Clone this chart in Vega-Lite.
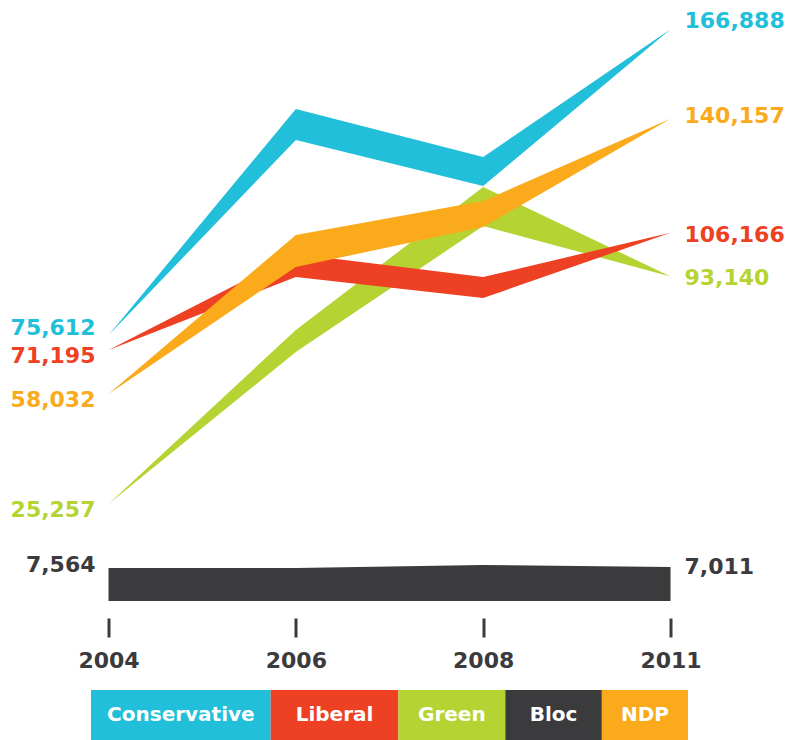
{
  "$schema": "https://vega.github.io/schema/vega-lite/v6.json",
  "autosize": {"type": "pad"},
  "padding": {"left": 10, "top": 2, "right": 0, "bottom": 0},
  "background": "white",
  "config": {"view": {"stroke": null}},
  "bounds": "flush",
  "center": true,
  "spacing": 88,
  "resolve": {"scale": {"x": "independent", "y": "independent"}},
  "datasets": {
    "bands": [
      {"party": "Bloc", "year": "2004", "lo": -3700, "hi": 6150},
      {"party": "Bloc", "year": "2006", "lo": -3700, "hi": 6150},
      {"party": "Bloc", "year": "2008", "lo": -3700, "hi": 7040},
      {"party": "Bloc", "year": "2011", "lo": -3700, "hi": 6440},
      {"party": "Green", "year": "2004", "lo": 25257, "hi": 25257},
      {"party": "Green", "year": "2006", "lo": 70585, "hi": 77148},
      {"party": "Green", "year": "2008", "lo": 108174, "hi": 119809},
      {"party": "Green", "year": "2011", "lo": 93140, "hi": 93140},
      {"party": "Liberal", "year": "2004", "lo": 71195, "hi": 71195},
      {"party": "Liberal", "year": "2006", "lo": 92959, "hi": 99821},
      {"party": "Liberal", "year": "2008", "lo": 86695, "hi": 92959},
      {"party": "Liberal", "year": "2011", "lo": 106166, "hi": 106166},
      {"party": "NDP", "year": "2004", "lo": 58032, "hi": 58032},
      {"party": "NDP", "year": "2006", "lo": 95943, "hi": 105489},
      {"party": "NDP", "year": "2008", "lo": 107876, "hi": 115632},
      {"party": "NDP", "year": "2011", "lo": 140157, "hi": 140157},
      {"party": "Conservative", "year": "2004", "lo": 75612, "hi": 75612},
      {"party": "Conservative", "year": "2006", "lo": 133831, "hi": 143079},
      {"party": "Conservative", "year": "2008", "lo": 120107, "hi": 128759},
      {"party": "Conservative", "year": "2011", "lo": 166888, "hi": 166888}
    ],
    "labels": [
      {"party": "Conservative", "year": "2004", "value": 75612},
      {"party": "Liberal", "year": "2004", "value": 71195},
      {"party": "NDP", "year": "2004", "value": 58032},
      {"party": "Green", "year": "2004", "value": 25257},
      {"party": "Bloc", "year": "2004", "value": 7564},
      {"party": "Conservative", "year": "2011", "value": 166888},
      {"party": "NDP", "year": "2011", "value": 140157},
      {"party": "Liberal", "year": "2011", "value": 106166},
      {"party": "Green", "year": "2011", "value": 93140},
      {"party": "Bloc", "year": "2011", "value": 7011}
    ],
    "legend": [
      {"party": "Conservative", "rank": 1},
      {"party": "Liberal", "rank": 2},
      {"party": "Green", "rank": 3},
      {"party": "Bloc", "rank": 4},
      {"party": "NDP", "rank": 5}
    ]
  },
  "vconcat": [
    {
      "width": 562,
      "height": 600,
      "encoding": {
        "x": {
          "field": "year", "type": "ordinal",
          "scale": {"type": "point", "padding": 0},
          "axis": {
            "title": null, "domain": false, "grid": false, "labelAngle": 0,
            "offset": 16, "tickSize": 19, "tickWidth": 3, "tickColor": "#3b3b3d",
            "labelFont": "DejaVu Sans", "labelFontWeight": "bold", "labelFontSize": 22,
            "labelColor": "#3b3b3d", "labelBaseline": "middle", "labelPadding": 23
          }
        },
        "color": {
          "field": "party", "type": "nominal",
          "scale": {
            "domain": ["Conservative", "Liberal", "Green", "Bloc", "NDP"],
            "range": ["#22BFDA", "#EE4023", "#B5D433", "#3B3B3D", "#FAAA1B"]
          },
          "legend": null
        },
        "y": {"field": "lo", "type": "quantitative", "scale": {"domain": [-4000, 175000], "nice": false, "zero": false}, "axis": null}
      },
      "layer": [
        {
          "data": {"name": "bands"},
          "transform": [{"filter": "datum.party == 'Bloc'"}],
          "mark": {"type": "area", "opacity": 1},
          "encoding": {"y2": {"field": "hi"}}
        },
        {
          "data": {"name": "bands"},
          "transform": [{"filter": "datum.party == 'Green'"}],
          "mark": {"type": "area", "opacity": 1},
          "encoding": {"y2": {"field": "hi"}}
        },
        {
          "data": {"name": "bands"},
          "transform": [{"filter": "datum.party == 'Liberal'"}],
          "mark": {"type": "area", "opacity": 1},
          "encoding": {"y2": {"field": "hi"}}
        },
        {
          "data": {"name": "bands"},
          "transform": [{"filter": "datum.party == 'NDP'"}],
          "mark": {"type": "area", "opacity": 1},
          "encoding": {"y2": {"field": "hi"}}
        },
        {
          "data": {"name": "bands"},
          "transform": [{"filter": "datum.party == 'Conservative'"}],
          "mark": {"type": "area", "opacity": 1},
          "encoding": {"y2": {"field": "hi"}}
        },
        {
          "data": {"name": "labels"},
          "transform": [{"filter": "datum.year == '2004' && (datum.party == 'Liberal' || datum.party == 'NDP' || datum.party == 'Green')"}],
          "mark": {"type": "text", "align": "right", "baseline": "middle", "dx": -13, "dy": 6, "font": "DejaVu Sans", "fontWeight": "bold", "fontSize": 22},
          "encoding": {
            "y": {"field": "value", "type": "quantitative", "scale": {"domain": [-4000, 175000], "nice": false, "zero": false}, "axis": null},
            "text": {"field": "value", "type": "quantitative", "format": ","}
          }
        },
        {
          "data": {"name": "labels"},
          "transform": [{"filter": "datum.year == '2004' && datum.party == 'Conservative'"}],
          "mark": {"type": "text", "align": "right", "baseline": "middle", "dx": -13, "dy": -7, "font": "DejaVu Sans", "fontWeight": "bold", "fontSize": 22},
          "encoding": {
            "y": {"field": "value", "type": "quantitative", "scale": {"domain": [-4000, 175000], "nice": false, "zero": false}, "axis": null},
            "text": {"field": "value", "type": "quantitative", "format": ","}
          }
        },
        {
          "data": {"name": "labels"},
          "transform": [{"filter": "datum.year == '2004' && datum.party == 'Bloc'"}],
          "mark": {"type": "text", "align": "right", "baseline": "middle", "dx": -13, "dy": 2, "font": "DejaVu Sans", "fontWeight": "bold", "fontSize": 22},
          "encoding": {
            "y": {"field": "value", "type": "quantitative", "scale": {"domain": [-4000, 175000], "nice": false, "zero": false}, "axis": null},
            "text": {"field": "value", "type": "quantitative", "format": ","}
          }
        },
        {
          "data": {"name": "labels"},
          "transform": [{"filter": "datum.year == '2011' && (datum.party == 'Liberal' || datum.party == 'Green' || datum.party == 'Bloc')"}],
          "mark": {"type": "text", "align": "left", "baseline": "middle", "dx": 14, "dy": 2, "font": "DejaVu Sans", "fontWeight": "bold", "fontSize": 22},
          "encoding": {
            "y": {"field": "value", "type": "quantitative", "scale": {"domain": [-4000, 175000], "nice": false, "zero": false}, "axis": null},
            "text": {"field": "value", "type": "quantitative", "format": ","}
          }
        },
        {
          "data": {"name": "labels"},
          "transform": [{"filter": "datum.year == '2011' && datum.party == 'Conservative'"}],
          "mark": {"type": "text", "align": "left", "baseline": "middle", "dx": 14, "dy": -8, "font": "DejaVu Sans", "fontWeight": "bold", "fontSize": 22},
          "encoding": {
            "y": {"field": "value", "type": "quantitative", "scale": {"domain": [-4000, 175000], "nice": false, "zero": false}, "axis": null},
            "text": {"field": "value", "type": "quantitative", "format": ","}
          }
        },
        {
          "data": {"name": "labels"},
          "transform": [{"filter": "datum.year == '2011' && datum.party == 'NDP'"}],
          "mark": {"type": "text", "align": "left", "baseline": "middle", "dx": 14, "dy": -3, "font": "DejaVu Sans", "fontWeight": "bold", "fontSize": 22},
          "encoding": {
            "y": {"field": "value", "type": "quantitative", "scale": {"domain": [-4000, 175000], "nice": false, "zero": false}, "axis": null},
            "text": {"field": "value", "type": "quantitative", "format": ","}
          }
        }
      ]
    },
    {
      "width": 597,
      "height": 50,
      "data": {"name": "legend"},
      "transform": [
        {"calculate": "10.4 * length(datum.party) + 55", "as": "w"},
        {"window": [{"op": "sum", "field": "w", "as": "x1"}], "sort": [{"field": "rank"}], "frame": [null, 0]},
        {"calculate": "datum.x1 - datum.w", "as": "x0"},
        {"calculate": "datum.x1 - datum.w / 2", "as": "xm"}
      ],
      "layer": [
        {
          "mark": {"type": "rect"},
          "encoding": {
            "x": {"field": "x0", "type": "quantitative", "scale": {"nice": false, "zero": true}, "axis": null},
            "x2": {"field": "x1"},
            "color": {
              "field": "party", "type": "nominal",
              "scale": {
                "domain": ["Conservative", "Liberal", "Green", "Bloc", "NDP"],
                "range": ["#22BFDA", "#EE4023", "#B5D433", "#3B3B3D", "#FAAA1B"]
              },
              "legend": null
            }
          }
        },
        {
          "mark": {"type": "text", "color": "white", "font": "DejaVu Sans", "fontWeight": "bold", "fontSize": 20, "baseline": "middle"},
          "encoding": {
            "x": {"field": "xm", "type": "quantitative", "axis": null},
            "text": {"field": "party", "type": "nominal"}
          }
        }
      ]
    }
  ]
}
